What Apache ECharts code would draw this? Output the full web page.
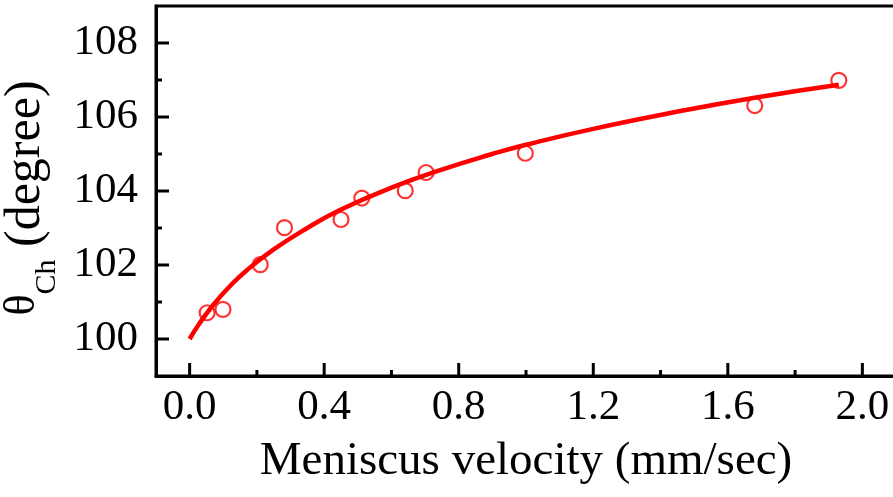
<!DOCTYPE html>
<html>
<head>
<meta charset="utf-8">
<script src="https://cdn.jsdelivr.net/npm/echarts@6/dist/echarts.min.js"></script>
<style>
  html, body { margin: 0; padding: 0; background: #ffffff; }
  #chart { width: 893px; height: 497px; }
</style>
</head>
<body>
<div id="chart"></div>
<script>
// Measured contact angle against meniscus velocity
const velocity = [0.052, 0.099, 0.21, 0.282, 0.45, 0.512, 0.641, 0.703, 0.998, 1.68, 1.93];
const angle = [100.71, 100.80, 102.01, 103.01, 103.23, 103.81, 104.01, 104.50, 105.02, 106.31, 106.99];

// Fitted trend line
const fitVelocity = [0.00, 0.03, 0.07, 0.12, 0.17, 0.25, 0.35, 0.45, 0.60, 0.75, 0.90, 1.00, 1.20, 1.46, 1.68, 1.93];
const fitAngle = [100.00, 100.43, 100.92, 101.43, 101.86, 102.42, 103.00, 103.50, 104.09, 104.58, 105.00, 105.25, 105.68, 106.16, 106.52, 106.87];

// Axis ticks and labels
const xMajor = [0.0, 0.4, 0.8, 1.2, 1.6, 2.0];
const xMinor = [0.2, 0.6, 1.0, 1.4, 1.8];
const yMajor = [100, 102, 104, 106, 108];
const yMinor = [101, 103, 105, 107];

const X_RANGE = { min: -0.1, max: 2.1 };
const Y_RANGE = { min: 99, max: 109 };

const serif = '"Liberation Serif", "Times New Roman", serif';
const black = { color: '#000', width: 3 };
const MAJOR_LEN = 13;
const MINOR_LEN = 6;

// Inward tick marks drawn at axis values through the grid's own coordinate mapping
function tickSeries(name, values, axis, len) {
  return {
    name: name,
    type: 'custom',
    xAxisIndex: 0, yAxisIndex: 0,
    silent: true,
    clip: false,
    z: 4,
    data: values.map(v => axis === 'x' ? [v, Y_RANGE.min] : [X_RANGE.min, v]),
    renderItem: function (params, api) {
      const p = api.coord([api.value(0), api.value(1)]);
      const shape = axis === 'x'
        ? { x1: p[0], y1: p[1], x2: p[0], y2: p[1] - len }
        : { x1: p[0], y1: p[1], x2: p[0] + len, y2: p[1] };
      return { type: 'line', shape: shape, style: { stroke: '#000', lineWidth: 3 } };
    }
  };
}

const chart = echarts.init(document.getElementById('chart'));

chart.setOption({
  animation: false,
  grid: {
    left: 156, top: 6, width: 740, height: 370, outerBoundsMode: 'none',
    show: true, borderColor: '#000', borderWidth: 3, backgroundColor: 'transparent'
  },
  xAxis: {
    type: 'value', min: X_RANGE.min, max: X_RANGE.max, position: 'bottom',
    axisLine: { show: true, onZero: false, lineStyle: black },
    axisTick: { show: false },
    axisLabel: {
      show: true, customValues: xMajor, margin: 10,
      fontFamily: serif, fontSize: 43, color: '#000',
      formatter: v => v.toFixed(1)
    },
    splitLine: { show: false },
    name: 'Meniscus velocity (mm/sec)',
    nameLocation: 'middle', nameGap: 62,
    nameTextStyle: { fontFamily: serif, fontSize: 47, color: '#000' }
  },
  yAxis: {
    type: 'value', min: Y_RANGE.min, max: Y_RANGE.max, position: 'left',
    axisLine: { show: true, onZero: false, lineStyle: black },
    axisTick: { show: false },
    axisLabel: { show: true, customValues: yMajor, margin: 18, fontFamily: serif, fontSize: 43, color: '#000' },
    splitLine: { show: false },
    name: '{th|θ}{s|Ch}{t| (degree)}',
    nameLocation: 'middle', nameGap: 92, nameRotate: 90,
    nameTextStyle: {
      fontFamily: serif, color: '#000',
      padding: [0, 14, 0, 0],
      rich: {
        th: { fontFamily: serif, fontSize: 44, color: '#000', lineHeight: 38, verticalAlign: 'top' },
        t: { fontFamily: serif, fontSize: 50, color: '#000', lineHeight: 62, verticalAlign: 'top' },
        s: { fontFamily: serif, fontSize: 30, color: '#000', lineHeight: 31, verticalAlign: 'bottom' }
      }
    }
  },
  series: [
    tickSeries('x major ticks', xMajor, 'x', MAJOR_LEN),
    tickSeries('x minor ticks', xMinor, 'x', MINOR_LEN),
    tickSeries('y major ticks', yMajor, 'y', MAJOR_LEN),
    tickSeries('y minor ticks', yMinor, 'y', MINOR_LEN),
    {
      name: 'fit',
      type: 'line',
      data: fitVelocity.map((v, i) => [v, fitAngle[i]]),
      smooth: true,
      showSymbol: false,
      lineStyle: { color: '#ff0000', width: 4.5 },
      z: 2
    },
    {
      name: 'measured',
      type: 'scatter',
      data: velocity.map((v, i) => [v, angle[i]]),
      symbol: 'circle',
      symbolSize: 15,
      itemStyle: { color: 'rgba(255,255,255,0)', borderColor: '#ff0000', borderWidth: 2.2 },
      z: 3
    }
  ]
});
</script>
</body>
</html>
